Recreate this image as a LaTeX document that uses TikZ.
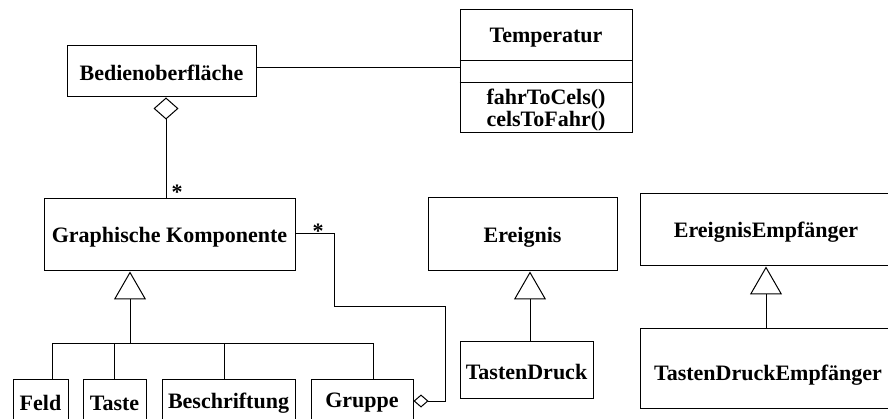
\documentclass[tikz,border=0pt]{standalone}
\usepackage{fontspec}
\setmainfont{Liberation Serif}
\usetikzlibrary{arrows.meta,calc}
\begin{document}
\begin{tikzpicture}[x=1pt,y=-1pt,
  line width=1pt,
  font=\fontsize{22}{25}\selectfont\bfseries,
  box/.style={draw,rectangle,inner sep=0pt,line width=1pt},
  lbl/.style={inner sep=0pt,anchor=center},
  agg/.style={-{Diamond[open,length=22pt,width=25pt,line width=1pt]}},
  aggs/.style={-{Diamond[open,length=15pt,width=13pt,line width=1pt]}},
  inh/.style={-{Triangle[open,length=28pt,width=32pt,line width=1pt]}}]
\useasboundingbox (0,0) rectangle (888,419);
\begin{scope}
\clip (0,0) rectangle (888,419);
% boxes
\node[box,minimum width=189pt,minimum height=51pt] (bed) at (161.5,71.5) {};
\node[lbl] (bedt) at (161.5,73) {Bedienoberfläche};
\node[box,minimum width=172pt,minimum height=123pt] (temp) at (546,71.5) {};
\node[lbl] (tempt) at (546,38) {Temperatur};
\node[lbl] (m1) at (546,99) {fahrToCels()};
\node[lbl] (m2) at (546,121) {celsToFahr()};
\draw ($(temp.north west)+(0,51)$) -- ($(temp.north east)+(0,51)$);
\draw ($(temp.north west)+(0,73)$) -- ($(temp.north east)+(0,73)$);
\node[box,minimum width=251pt,minimum height=72pt] (gk) at (169.5,235) {};
\node[lbl] (gkt) at (169.5,237) {Graphische Komponente};
\node[box,minimum width=189pt,minimum height=73pt] (ereig) at (522.5,234.5) {};
\node[lbl] (ereigt) at (522.5,237) {Ereignis};
\node[box,minimum width=256pt,minimum height=72pt] (ee) at (768,230) {};
\node[lbl] (eet) at (766,232) {EreignisEmpfänger};
\node[box,minimum width=133pt,minimum height=57pt] (td) at (526.5,369.5) {};
\node[lbl] (tdt) at (526.5,372) {TastenDruck};
\node[box,minimum width=256pt,minimum height=80pt] (tde) at (768,368) {};
\node[lbl] (tdet) at (768,375) {TastenDruckEmpfänger};
\node[box,minimum width=55pt,minimum height=48pt] (feld) at (40.5,403) {};
\node[lbl] (feldt) at (40.5,403) {Feld};
\node[box,minimum width=63pt,minimum height=48pt] (taste) at (114.5,403) {};
\node[lbl] (tastet) at (114.5,403) {Taste};
\node[box,minimum width=133pt,minimum height=48pt] (besch) at (228.5,403) {};
\node[lbl] (bescht) at (228.5,403) {Beschriftung};
\node[box,minimum width=102pt,minimum height=48pt] (gruppe) at (362,403) {};
\node[lbl] (gruppet) at (362,403) {Gruppe};
% association Bedienoberflaeche - Temperatur
\draw ($(bed.east)+(0,-3.5)$) -- ($(temp.west)+(0,-3.5)$);
% aggregation Bedienoberflaeche <>- Graphische Komponente
\draw[agg] ($(gk.north)+(-3.5,0)$) -- ($(bed.south)+(4.5,0)$);
\node[lbl] (star1) at (177,192) {*};
% aggregation Gruppe <>- Graphische Komponente
\coordinate (g1) at (334,234);
\coordinate (g2) at (334,307);
\coordinate (g3) at (445,307);
\coordinate (g4) at (445,401);
\draw[aggs] (gk.east |- g1) -- (g1) -- (g2) -- (g3) -- (g4) -- ($(gruppe.east)+(0,-2)$);
\node[lbl] (star2) at (318,231) {*};
% inheritance Graphische Komponente
\coordinate (j) at (130,343);
\coordinate (jl) at (52,343);
\coordinate (jr) at (373,343);
\draw[inh] (j) -- ($(gk.south)+(-39.5,0)$);
\draw (jl) -- (jr);
\draw (jl) -- (feld.north -| jl);
\draw (j -| taste.north) -- (taste.north);
\draw (224,343) -- (besch.north -| 224,343);
\draw (jr) -- (gruppe.north -| jr);
% inheritance Ereignis
\draw[inh] ($(td.north)+(3.5,0)$) -- ($(ereig.south)+(7.5,0)$);
% inheritance EreignisEmpfaenger
\draw[inh] ($(tde.north)+(-2,0)$) -- ($(ee.south)+(-2,0)$);
\end{scope}
\end{tikzpicture}
\end{document}
